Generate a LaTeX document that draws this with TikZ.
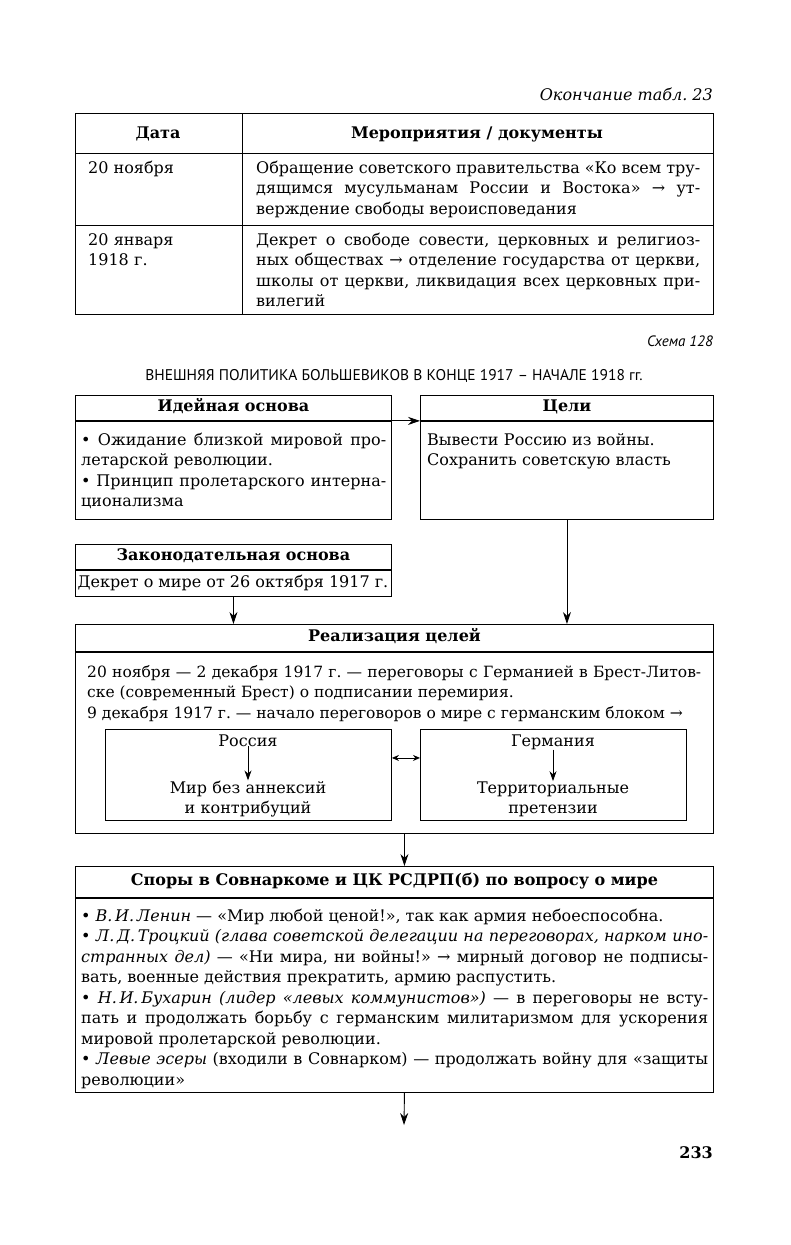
\documentclass[tikz,border=0pt]{standalone}
\usepackage{fontspec}
\setmainfont{DejaVu Serif}
\newfontfamily\schemefont{PT Sans}
\usetikzlibrary{arrows.meta,positioning}

\begin{document}
\frenchspacing
\begin{tikzpicture}[x=1pt, y=-1pt, >=Stealth,
  every node/.style={inner sep=0pt, font=\fontsize{16}{20.5}\selectfont},
  frame/.style={rectangle, draw, line width=0.9pt, anchor=north west},
  headbox/.style={frame, font=\fontsize{16}{20.5}\selectfont\bfseries, text height=12pt, text depth=4pt, minimum height=25pt},
  head/.style={anchor=base, font=\fontsize{16}{20.5}\selectfont\bfseries},
  body/.style={anchor=base west, align=justify},
  lines/.style={anchor=base west, align=left},
  grid/.style={line width=0.9pt},
  arrow/.style={->, line width=0.9pt, >={Stealth[length=12pt,width=8pt]}},
  smallarrow/.style={->, line width=0.9pt, >={Stealth[length=10pt,width=7pt]}},
  dblarrow/.style={<->, line width=0.9pt, >={Stealth[length=7pt,width=6pt]}}]

  \path[use as bounding box, fill=white] (0,0) rectangle (791,1245);

  % end of table 23
  \node[anchor=base east, font=\fontsize{16}{20.5}\selectfont\itshape] (tabnote) at (713,100) {Окончание табл. 23};
  \draw[grid] (75,113) rectangle (713,314);
  \draw[grid] (242,113) -- (242,314);
  \draw[grid] (75,153) -- (713,153);
  \draw[grid] (75,225) -- (713,225);
  \node[head] (colDate) at (158,138) {Дата};
  \node[head] (colDocs) at (477,138) {Мероприятия / документы};
  \node[anchor=base west] (date1) at (88,173) {20 ноября};
  \node[body, text width=444pt] (docs1) at (256,173) {Обращение советского правительства «Ко всем тру-\linebreak дящимся мусульманам России и Востока» → ут-\linebreak верждение свободы вероисповедания};
  \node[lines, text width=140pt] (date2) at (88,245) {20 января\\1918 г.};
  \node[body, text width=444pt] (docs2) at (256,245) {Декрет о свободе совести, церковных и религиоз-\linebreak ных обществах → отделение государства от церкви,\linebreak школы от церкви, ликвидация всех церковных при-\linebreak вилегий};

  % scheme 128
  \node[anchor=base east, font=\fontsize{15}{18}\selectfont\schemefont\itshape] (schemeNo) at (713,346) {Схема 128};
  \node[anchor=base, font=\fontsize{15.5}{18}\selectfont\schemefont] (title) at (394,380) {ВНЕШНЯЯ ПОЛИТИКА БОЛЬШЕВИКОВ В КОНЦЕ 1917 – НАЧАЛЕ 1918 гг.};

  % Idea and goals
  \node[headbox, minimum width=316pt] (ideyaHead) at (75,395) {Идейная основа};
  \node[frame, minimum width=316pt, minimum height=98pt] (ideyaBody) at (ideyaHead.south west) {};
  \node[body, text width=305pt] (ideyaText) at (81,445) {• Ожидание близкой мировой про-\linebreak летарской революции.\\ • Принцип пролетарского интерна-\linebreak ционализма};

  \node[headbox, minimum width=293pt] (celiHead) at (420,395) {Цели};
  \node[frame, minimum width=293pt, minimum height=98pt] (celiBody) at (celiHead.south west) {};
  \node[lines, text width=280pt] (celiText) at (427,445) {Вывести Россию из войны.\\ Сохранить советскую власть};

  \draw[arrow] (ideyaHead.south east) -- (celiHead.south west);

  % Legal basis
  \node[headbox, minimum width=316pt] (zakonHead) at (75,544) {Законодательная основа};
  \node[frame, minimum width=316pt, minimum height=26pt] (zakonBody) at (zakonHead.south west) {};
  \node[anchor=base] (zakonText) at (233,587) {Декрет о мире от 26 октября 1917 г.};

  % Realisation
  \node[headbox, minimum width=638pt, minimum height=27pt] (realHead) at (75,624) {Реализация целей};
  \node[frame, minimum width=638pt, minimum height=181pt] (realBody) at (realHead.south west) {};
  \node[body, text width=614pt, font=\fontsize{15.5}{20.5}\selectfont] (realText) at (87,677) {20 ноября — 2 декабря 1917 г. — переговоры с Германией в Брест-Литов-\linebreak ске (современный Брест) о подписании перемирия.\\ 9 декабря 1917 г. — начало переговоров о мире с германским блоком →};

  \node[frame, minimum width=286pt, minimum height=91pt] (rusBox) at (105,729) {};
  \node[anchor=base] (rusTitle) at (248,746) {Россия};
  \node[anchor=base, align=center, text width=260pt] (rusGoal) at (248,793) {Мир без аннексий\\и контрибуций};
  \draw[smallarrow] (rusTitle) -- (rusGoal);

  \node[frame, minimum width=266pt, minimum height=91pt] (gerBox) at (420,729) {};
  \node[anchor=base] (gerTitle) at (553,746) {Германия};
  \node[anchor=base, align=center, text width=240pt] (gerGoal) at (553,793) {Территориальные\\претензии};
  \draw[smallarrow] (gerTitle) -- (gerGoal);

  \draw[dblarrow] ([yshift=17pt]rusBox.east) -- ([yshift=17pt]gerBox.west);

  \draw[arrow] (zakonBody.south) -- (realHead.north -| zakonBody.south);
  \draw[arrow] (celiBody.south) -- (realHead.north -| celiBody.south);

  % Disputes
  \node[headbox, minimum width=638pt, minimum height=31pt] (sporyHead) at (75,866) {Споры в Совнаркоме и ЦК РСДРП(б) по вопросу о мире};
  \node[frame, minimum width=638pt, minimum height=194pt] (sporyBody) at (sporyHead.south west) {};
  \node[body, text width=627pt] (sporyText) at (81,921) {• \textit{В.\,И.\,Ленин} — «Мир любой ценой!», так как армия небоеспособна.\\ • \textit{Л.\,Д.\,Троцкий (глава советской делегации на переговорах, нарком ино-\linebreak странных дел)} — «Ни мира, ни войны!» → мирный договор не подписы-\linebreak вать, военные действия прекратить, армию распустить.\\ • \textit{Н.\,И.\,Бухарин (лидер «левых коммунистов»)} — в переговоры не всту-\linebreak пать и продолжать борьбу с германским милитаризмом для ускорения\linebreak мировой пролетарской революции.\\ • \textit{Левые эсеры} (входили в Совнарком) — продолжать войну для «защиты\linebreak революции»};

  \draw[arrow] ([xshift=10pt]realBody.south) -- ([xshift=10pt]sporyHead.north);
  \coordinate (next) at (404,1125);
  \draw[arrow] ([xshift=10pt]sporyBody.south) -- (next);

  \node[anchor=base east, font=\fontsize{16}{20.5}\selectfont\bfseries] (pageNo) at (713,1158) {233};
\end{tikzpicture}
\end{document}
